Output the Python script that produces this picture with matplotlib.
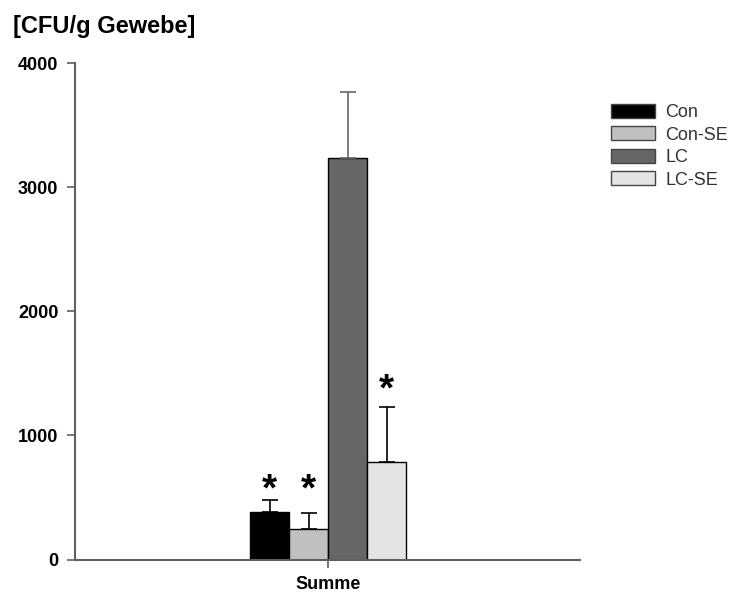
import matplotlib
matplotlib.use("Agg")
import matplotlib.pyplot as plt
from matplotlib.patches import Patch

plt.rcParams['font.family'] = ['Liberation Sans', 'DejaVu Sans']

categories = ["Con", "Con-SE", "LC", "LC-SE"]
values = [385, 243, 3233, 788]
errors = [92, 132, 534, 438]
colors = ["#000000", "#c0c0c0", "#666666", "#e4e4e4"]
err_colors = ["#000000", "#000000", "#666666", "#000000"]
star_y = [555, 555, None, 1360]
group_label = "Summe"
yticks = [0, 1000, 2000, 3000, 4000]

fig = plt.figure(figsize=(7.35, 5.97), dpi=100)
ax = fig.add_axes([75/735, 1-559.5/597, (580-75)/735, (559.5-63)/597])

w = 1.0
offsets = [-1.5, -0.5, 0.5, 1.5]
for i, (v, e, c, ec, sy) in enumerate(zip(values, errors, colors, err_colors, star_y)):
    x = offsets[i] * w
    ax.bar(x, v, width=w, color=c, edgecolor="black", linewidth=1.0, zorder=2)
    ax.errorbar(x, v, yerr=[[0], [e]], fmt="none", ecolor=ec, elinewidth=1.2,
                capsize=5.5, capthick=1.2, zorder=3)
    if sy is not None:
        ax.text(x, sy, "*", ha="center", va="center", fontsize=28,
                fontweight="bold", color="black", zorder=4)

ax.set_xlim(-253/39, 252/39)
ax.set_ylim(0, 4000)
ax.set_yticks(yticks)
ax.set_yticklabels([str(t) for t in yticks], fontsize=13, fontweight="bold")
ax.set_xticks([0])
ax.set_xticklabels([group_label], fontsize=13, fontweight="bold")

for s in ["top", "right"]:
    ax.spines[s].set_visible(False)
for s in ["left", "bottom"]:
    ax.spines[s].set_color("#606060")
    ax.spines[s].set_linewidth(1.5)
ax.tick_params(axis="both", direction="out", length=6, width=1.2, color="#606060", pad=6)
ax.tick_params(axis="x", pad=6)

fig.text(13/735, 1-33/597, "[CFU/g Gewebe]", fontsize=17, fontweight="bold",
         ha="left", va="baseline")

handles = [Patch(facecolor=c, edgecolor="#444444", linewidth=1.0) for c in colors]
leg = fig.legend(handles, categories, loc="upper left",
                 bbox_to_anchor=(611/735, 1-104/597), frameon=False,
                 fontsize=13, handlelength=2.45, handleheight=0.78,
                 labelspacing=0.3, handletextpad=0.55, borderaxespad=0,
                 borderpad=0)
for t in leg.get_texts():
    t.set_color("#333333")

fig.savefig("out.png", dpi=100)
